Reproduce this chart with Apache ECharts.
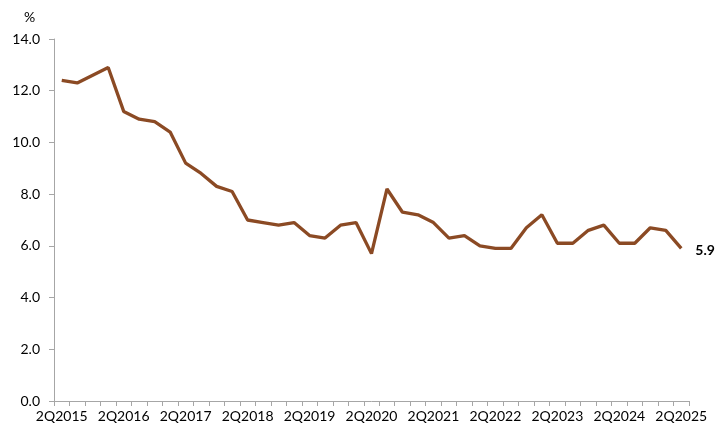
<!DOCTYPE html>
<html>
<head>
<meta charset="utf-8">
<script src="https://cdn.jsdelivr.net/npm/echarts@6/dist/echarts.min.js"></script>
<style>
  html, body { margin: 0; padding: 0; background: #fff; }
  #chart { width: 715px; height: 430px; }
</style>
</head>
<body>
<div id="chart"></div>
<script>
// Quarterly periods, 2Q2015 through 2Q2025
const quarters = [
  '2Q2015','3Q2015','4Q2015','1Q2016','2Q2016','3Q2016','4Q2016','1Q2017',
  '2Q2017','3Q2017','4Q2017','1Q2018','2Q2018','3Q2018','4Q2018','1Q2019',
  '2Q2019','3Q2019','4Q2019','1Q2020','2Q2020','3Q2020','4Q2020','1Q2021',
  '2Q2021','3Q2021','4Q2021','1Q2022','2Q2022','3Q2022','4Q2022','1Q2023',
  '2Q2023','3Q2023','4Q2023','1Q2024','2Q2024','3Q2024','4Q2024','1Q2025',
  '2Q2025'
];

// Rate, percent
const rate = [
  12.4, 12.3, 12.6, 12.9, 11.2, 10.9, 10.8, 10.4,
  9.2, 8.8, 8.3, 8.1, 7.0, 6.9, 6.8, 6.9,
  6.4, 6.3, 6.8, 6.9, 5.7, 8.2, 7.3, 7.2,
  6.9, 6.3, 6.4, 6.0, 5.9, 5.9, 6.7, 7.2,
  6.1, 6.1, 6.6, 6.8, 6.1, 6.1, 6.7, 6.6,
  5.9
];

const yTicks = { min: 0, max: 14, step: 2 };

const font = 'Lato, "Open Sans", sans-serif';
const axisGrey = '#a6a6a6';
const lineColor = '#8b4a24';

const chart = echarts.init(document.getElementById('chart'), null, { renderer: 'canvas' });

chart.setOption({
  animation: false,
  backgroundColor: '#ffffff',
  grid: { left: 54, right: 26, top: 39, bottom: 29, containLabel: false },
  graphic: [{
    type: 'text',
    left: 24,
    top: 10,
    style: { text: '%', font: '14px ' + font, fill: '#000' }
  }],
  xAxis: {
    type: 'category',
    data: quarters,
    boundaryGap: true,
    axisLine: { lineStyle: { color: axisGrey, width: 1 } },
    axisTick: { show: true, interval: 0, length: 5, lineStyle: { color: axisGrey } },
    axisLabel: {
      interval: 3,
      color: '#000',
      fontFamily: font,
      fontSize: 14,
      margin: 8
    },
    splitLine: { show: false }
  },
  yAxis: {
    type: 'value',
    min: yTicks.min,
    max: yTicks.max,
    interval: yTicks.step,
    axisLine: { show: true, lineStyle: { color: axisGrey, width: 1 } },
    axisTick: { show: true, length: 5, lineStyle: { color: axisGrey } },
    axisLabel: {
      color: '#000',
      fontFamily: font,
      fontSize: 14,
      margin: 14,
      formatter: v => v.toFixed(1)
    },
    splitLine: { show: false }
  },
  series: [{
    type: 'line',
    data: rate,
    symbol: 'none',
    lineStyle: { color: lineColor, width: 3.3 },
    itemStyle: { color: lineColor },
    endLabel: {
      show: true,
      formatter: p => Number(p.value).toFixed(1),
      color: '#000',
      fontFamily: font,
      fontSize: 14,
      fontWeight: 'bold',
      distance: 14,
      offset: [0, 2]
    }
  }]
});
</script>
</body>
</html>
